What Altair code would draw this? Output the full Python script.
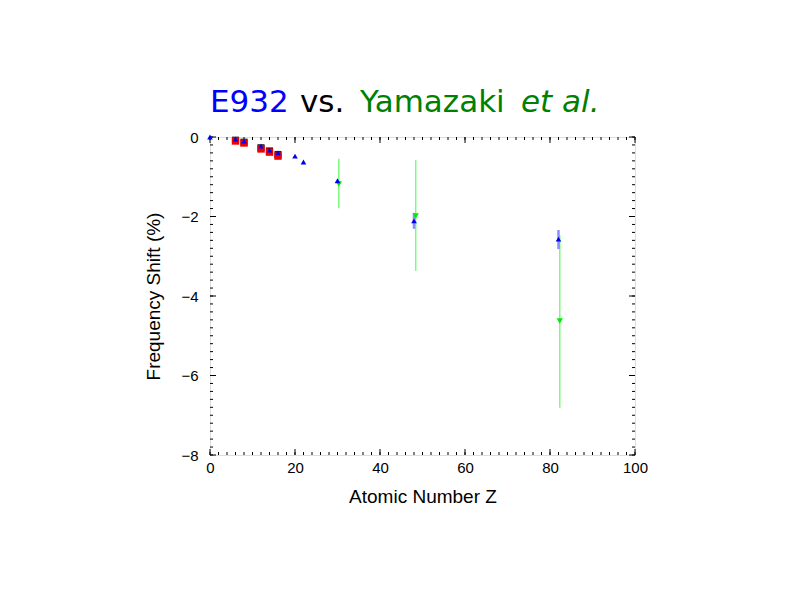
import altair as alt
import pandas as pd

# ---- data ----
e932_z = [0, 6, 8, 12, 14, 16, 20, 22, 30, 48, 82]
e932_shift = [0.0, -0.05, -0.10, -0.23, -0.33, -0.40, -0.48, -0.63, -1.10, -2.11, -2.57]
e932_err_z = [48, 82]
e932_err_lo = [-2.31, -2.82]
e932_err_hi = [-1.91, -2.34]

sq_z = [6, 8, 12, 14, 16]
red_shift = [-0.10, -0.15, -0.30, -0.38, -0.48]
black_shift = [-0.08, -0.13, -0.27, -0.35, -0.44]

yam_z = [30.3, 48.4, 82.3]
yam_shift = [-1.18, -1.99, -4.63]
yam_lo = [-1.79, -3.37, -6.81]
yam_hi = [-0.55, -0.58, -2.47]

x_major = [0, 20, 40, 60, 80, 100]
x_minor = [i * 2 for i in range(51)]
y_major = [0, -2, -4, -6, -8]
y_minor = [round(-0.2 * i, 1) for i in range(41)]

W, H = 425, 318
MAJ, MIN = 6, 3

xs = alt.Scale(domain=[0, 100], nice=False, zero=False)
ys = alt.Scale(domain=[-8, 0], nice=False, zero=False)
x_axis = alt.Axis(values=x_major, ticks=False, domain=False, grid=False,
                  labelFlush=False, labelOverlap=False,
                  title="Atomic Number Z", labelFont="Liberation Sans",
                  labelFontSize=15, labelColor="black", labelPadding=5,
                  titleFont="Liberation Sans", titleFontSize=19,
                  titleFontWeight="normal", titleColor="black", titlePadding=12)
y_axis = alt.Axis(values=y_major, ticks=False, domain=False, grid=False,
                  labelFlush=False, labelOverlap=False,
                  title="Frequency Shift (%)", labelFont="Liberation Sans",
                  labelFontSize=15, labelColor="black", labelPadding=12,
                  titleFont="Liberation Sans", titleFontSize=19,
                  titleFontWeight="normal", titleColor="black", titlePadding=17)


def X(f):
    return alt.X(f"{f}:Q", scale=xs, axis=x_axis)


def Y(f):
    return alt.Y(f"{f}:Q", scale=ys, axis=y_axis)


e932 = pd.DataFrame({"z": e932_z, "s": e932_shift})
e932_err = pd.DataFrame({"z": e932_err_z, "lo": e932_err_lo, "hi": e932_err_hi})
sq = pd.DataFrame({"z": sq_z, "r": red_shift, "b": black_shift})
yam = pd.DataFrame({"z": yam_z, "s": yam_shift, "lo": yam_lo, "hi": yam_hi})

xt_maj = pd.DataFrame({"v": x_major})
xt_min = pd.DataFrame({"v": x_minor})
yt_maj = pd.DataFrame({"v": y_major})
yt_min = pd.DataFrame({"v": y_minor})


def xticks(df, L):
    b = alt.Chart(df).mark_rule(color="black", strokeWidth=1).encode(
        x=X("v"), y=alt.value(H), y2=alt.value(H - L))
    t = alt.Chart(df).mark_rule(color="black", strokeWidth=1).encode(
        x=X("v"), y=alt.value(0), y2=alt.value(L))
    return [b, t]


def yticks(df, L):
    l = alt.Chart(df).mark_rule(color="black", strokeWidth=1).encode(
        y=Y("v"), x=alt.value(0), x2=alt.value(L))
    r = alt.Chart(df).mark_rule(color="black", strokeWidth=1).encode(
        y=Y("v"), x=alt.value(W), x2=alt.value(W - L))
    return [l, r]


ticks = xticks(xt_maj, MAJ) + xticks(xt_min, MIN) + yticks(yt_maj, MAJ) + yticks(yt_min, MIN)

yam_err = alt.Chart(yam).mark_rule(color="#7CFC7C", strokeWidth=1.5).encode(
    x=X("z"), y=Y("lo"), y2="hi")
e_err = alt.Chart(e932_err).mark_rule(color="#7f7fff", strokeWidth=2.5, opacity=0.9).encode(
    x=X("z"), y=Y("lo"), y2="hi")

black_sq = alt.Chart(sq).mark_point(shape="square", filled=True, color="#202020",
                                    size=50, opacity=1).encode(x=X("z"), y=Y("b"))
red_sq = alt.Chart(sq).mark_point(shape="square", filled=True, color="#ee0000",
                                  size=55, opacity=1).encode(x=X("z"), y=Y("r"))
yam_pts = alt.Chart(yam).mark_point(shape="triangle-down", filled=True, color="#00ee00",
                                    size=40, opacity=1).encode(x=X("z"), y=Y("s"))
e_pts = alt.Chart(e932).mark_point(shape="triangle-up", filled=True, color="#0000ee",
                                   size=32, opacity=1).encode(x=X("z"), y=Y("s"))

tdf = pd.DataFrame({"a": [0]})


def ttext(txt, x, color, style="normal"):
    return alt.Chart(tdf).mark_text(text=txt, font="DejaVu Sans", fontSize=31,
                                    color=color, align="left", baseline="alphabetic",
                                    fontStyle=style).encode(
        x=alt.value(x), y=alt.value(-25))


titles = [ttext("E932", 0, "#0000ff"), ttext("vs.", 90, "black"),
          ttext("Yamazaki", 150, "#008000"), ttext("et al.", 311, "#008000", "italic")]

chart = alt.layer(*ticks, yam_err, e_err, black_sq, red_sq, yam_pts, e_pts, *titles).properties(
    width=W, height=H,
    autosize=alt.AutoSizeParams(type="none"),
    padding={"left": 202, "top": 129, "right": 157, "bottom": 137},
).configure_view(stroke="black", strokeWidth=1).configure(background="white")

chart.save("out.html", embed_options={"renderer": "svg", "actions": False})
